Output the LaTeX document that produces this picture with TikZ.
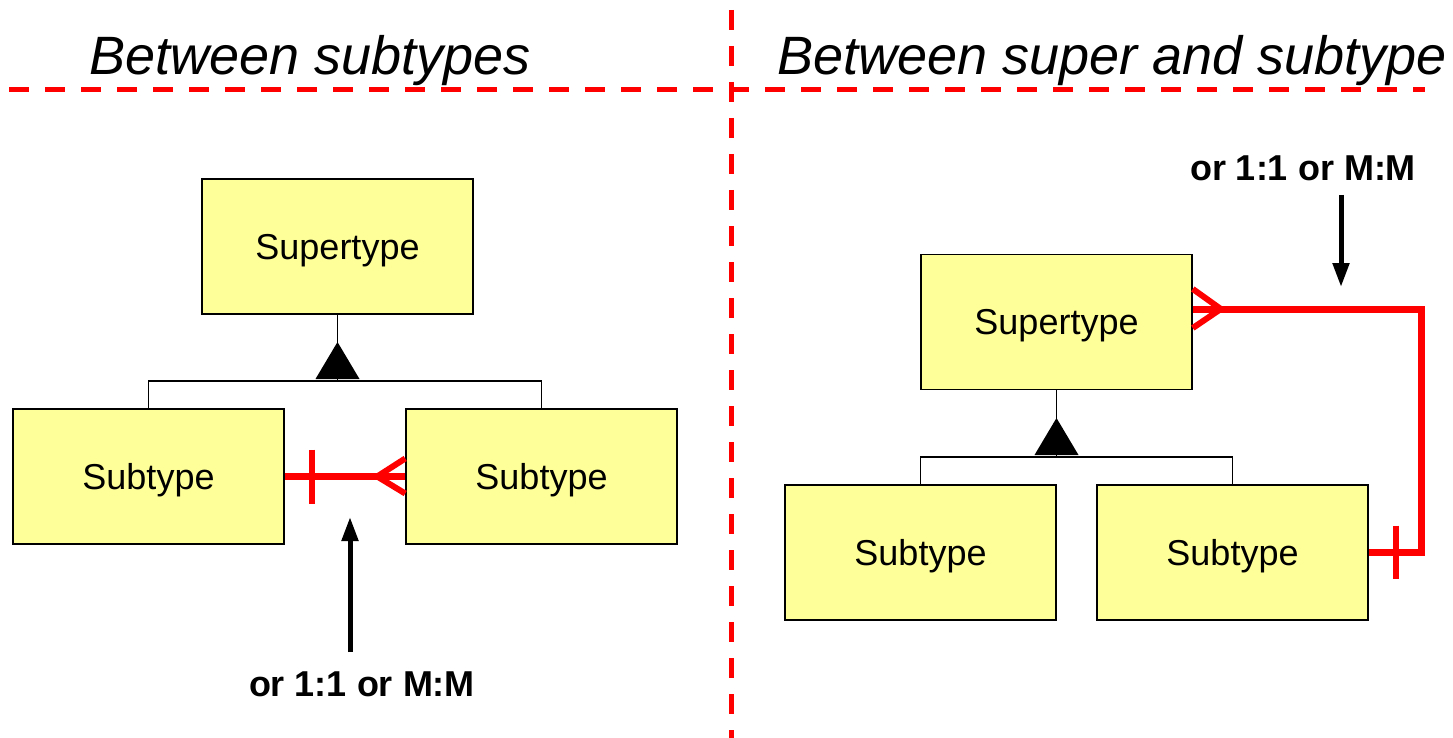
\documentclass[tikz,border=0pt]{standalone}
\usepackage{fontspec}
\setmainfont{Liberation Sans}
\usetikzlibrary{arrows.meta,calc}
\definecolor{boxyellow}{RGB}{255,255,153}
\definecolor{relred}{RGB}{255,0,0}
\tikzset{
  entity/.style={draw=black, line width=1.6pt, fill=boxyellow, minimum width=271pt, minimum height=135pt, inner sep=0pt, text depth=0pt, font=\fontsize{36}{42}\selectfont},
  isa/.style={draw=black, line width=1.8pt},
  rel/.style={draw=relred, line width=7pt},
  relthin/.style={draw=relred, line width=6pt},
  divider/.style={draw=relred, line width=5pt, dash pattern=on 20pt off 16pt},
  note/.style={font=\fontsize{36}{42}\selectfont\bfseries, inner sep=0pt},
  title/.style={font=\fontsize{54}{60}\selectfont\itshape, inner sep=0pt},
  pointer/.style={draw=black, line width=5pt, -{Triangle[length=24pt,width=16pt]}}
}
\begin{document}
\begin{tikzpicture}[x=1pt,y=-1pt]
\useasboundingbox (0,0) rectangle (1453,738);
% dividers
\coordinate (hl) at (9,90);
\coordinate (hr) at (1425,90);
\coordinate (vt) at (731,10);
\coordinate (vb) at (731,738);
\draw[divider] (hl) -- (hr);
\draw[divider] (vt) -- (vb);
% titles
\node[title, anchor=base] (t1) at (310,75) {Between subtypes};
\node[title, anchor=base west] (t2) at (777,75) {Between super and subtype};

% ---------- left diagram ----------
\node[entity] (LS) at (337.5,246.5) {Supertype};
\node[entity] (LA) at (148.5,476.5) {Subtype};
\node[entity] (LB) at (541.5,476.5) {Subtype};
\coordinate (Lbar) at (337.5,381);
\draw[isa] (LS.south) -- (Lbar);
\draw[isa] (LA.north) -- (LA.north |- Lbar) -- (LB.north |- Lbar) -- (LB.north);
\fill[black] (Lbar) ++(0,-2) -- ++(-22,0) -- (337.5,342) -- (359.5,379) -- cycle;
% relationship between subtypes
\draw[rel] (LA.east) -- (LB.west);
\draw[relthin] ($(LA.east)+(27,-27)$) -- ($(LA.east)+(27,27)$);
\coordinate (Lcf) at ($(LB.west)+(-28,0)$);
\draw[relthin] (Lcf) -- ($(LB.west)+(0,-18)$);
\draw[relthin] (Lcf) -- ($(LB.west)+(0,17)$);
% note
\node[note] (n1) at (362,684) {or 1:1 or M:M};
\coordinate (n1tip) at (350,517);
\draw[pointer] (n1tip |- 0,652) -- (n1tip);

% ---------- right diagram ----------
\node[entity] (RS) at (1056.5,322) {Supertype};
\node[entity] (RA) at (920.5,552.5) {Subtype};
\node[entity] (RB) at (1232.5,552.5) {Subtype};
\coordinate (Rbar) at (1056.5,457);
\draw[isa] (RS.south) -- (Rbar);
\draw[isa] (RA.north) -- (RA.north |- Rbar) -- (RB.north |- Rbar) -- (RB.north);
\fill[black] (1034.5,455) -- (1078.5,455) -- (1056.5,418) -- cycle;
% relationship super - subtype
\coordinate (Rs) at ($(RS.east)+(0,-13)$);
\coordinate (Rc) at (1421,309);
\draw[rel, line join=miter] (Rs) -- (Rc) -- (Rc |- RB.east) -- (RB.east);
\coordinate (Rcf) at ($(Rs)+(28,0)$);
\draw[relthin] (Rcf) -- ($(Rs)+(0,-20)$);
\draw[relthin] (Rcf) -- ($(Rs)+(0,19)$);
\draw[relthin] ($(RB.east)+(27,-27)$) -- ($(RB.east)+(27,26)$);
% note
\node[note] (n2) at (1303,168) {or 1:1 or M:M};
\coordinate (n2tip) at (1341,287);
\draw[pointer] (n2tip |- 0,195) -- (n2tip);
\end{tikzpicture}
\end{document}
